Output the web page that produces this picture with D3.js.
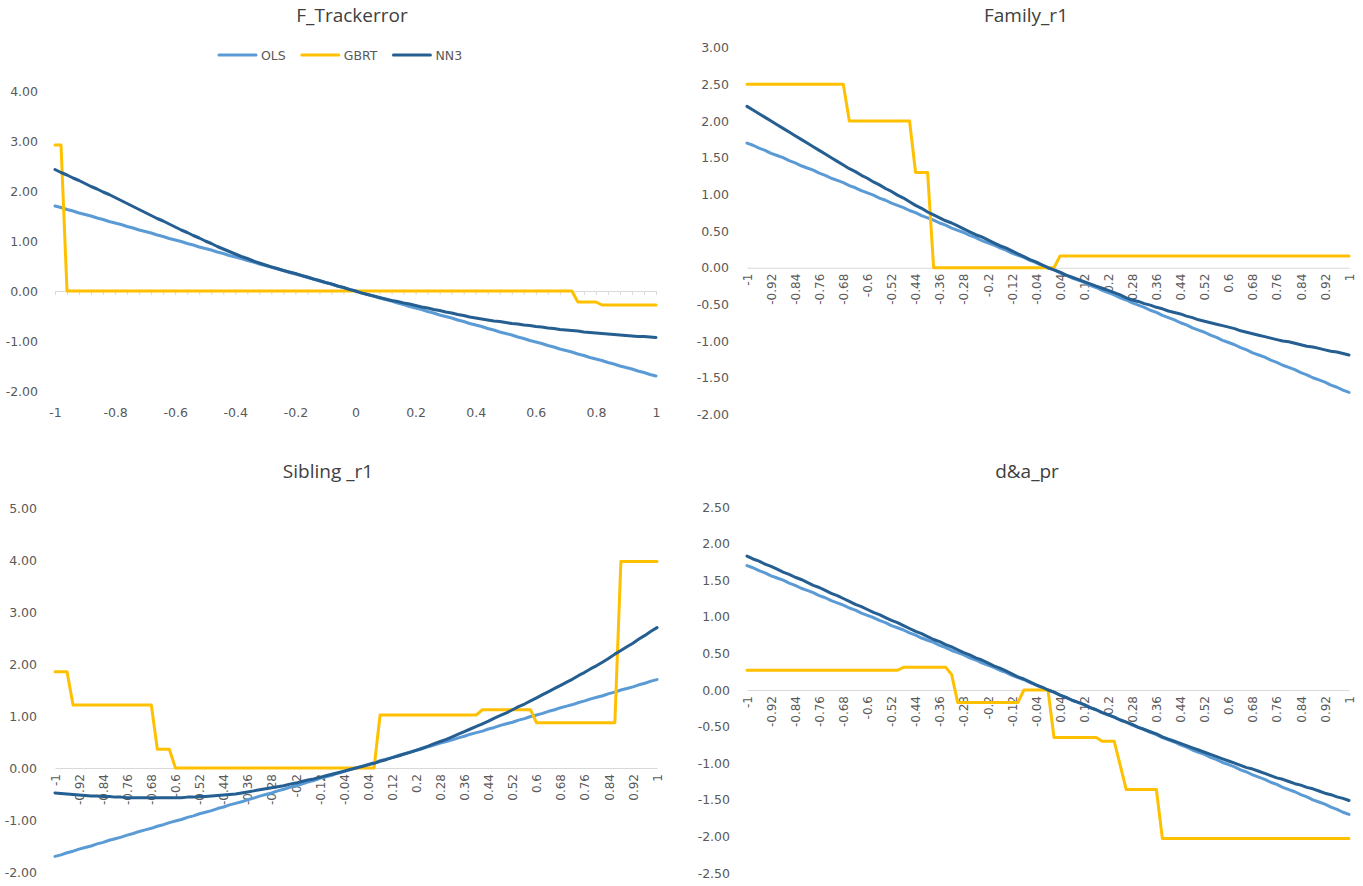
<!DOCTYPE html>
<html><head><meta charset="utf-8">
<script src="https://cdn.jsdelivr.net/npm/d3@7"></script>
<style>body{margin:0;background:#fff}svg{display:block}</style>
</head><body>
<svg id="chart" width="1363" height="886"></svg>
<script>
const seriesNames = ["OLS", "GBRT", "NN3"];
const xValues = [
-1,-0.98,-0.96,-0.94,-0.92,-0.9,-0.88,-0.86,-0.84,-0.82,
-0.8,-0.78,-0.76,-0.74,-0.72,-0.7,-0.68,-0.66,-0.64,-0.62,
-0.6,-0.58,-0.56,-0.54,-0.52,-0.5,-0.48,-0.46,-0.44,-0.42,
-0.4,-0.38,-0.36,-0.34,-0.32,-0.3,-0.28,-0.26,-0.24,-0.22,
-0.2,-0.18,-0.16,-0.14,-0.12,-0.1,-0.08,-0.06,-0.04,-0.02,
0,
0.02,0.04,0.06,0.08,0.1,0.12,0.14,0.16,0.18,0.2,
0.22,0.24,0.26,0.28,0.3,0.32,0.34,0.36,0.38,0.4,
0.42,0.44,0.46,0.48,0.5,0.52,0.54,0.56,0.58,0.6,
0.62,0.64,0.66,0.68,0.7,0.72,0.74,0.76,0.78,0.8,
0.82,0.84,0.86,0.88,0.9,0.92,0.94,0.96,0.98,1];
const catTickLabels = ["-1","-0.92","-0.84","-0.76","-0.68","-0.6","-0.52","-0.44","-0.36","-0.28","-0.2","-0.12","-0.04","0.04","0.12","0.2","0.28","0.36","0.44","0.52","0.6","0.68","0.76","0.84","0.92","1"];
const trackTicksX = [-1,-0.8,-0.6,-0.4,-0.2,0,0.2,0.4,0.6,0.8,1];
const trackTicksY = [-2,-1,0,1,2,3,4];
const familyTicksY = [-2,-1.5,-1,-0.5,0,0.5,1,1.5,2,2.5,3];
const siblingTicksY = [-2,-1,0,1,2,3,4,5];
const daTicksY = [-2.5,-2,-1.5,-1,-0.5,0,0.5,1,1.5,2,2.5];

// F_Trackerror
const olsTrack = [
1.70,1.67,1.63,1.60,1.56,1.53,1.50,1.46,1.43,1.39,
1.36,1.33,1.29,1.26,1.22,1.19,1.16,1.12,1.09,1.05,
1.02,0.99,0.95,0.92,0.88,0.85,0.82,0.78,0.75,0.71,
0.68,0.65,0.61,0.58,0.54,0.51,0.48,0.44,0.41,0.37,
0.34,0.31,0.27,0.24,0.20,0.17,0.14,0.10,0.07,0.03,
0.00,
-0.03,-0.07,-0.10,-0.14,-0.17,-0.20,-0.24,-0.27,-0.31,-0.34,
-0.37,-0.41,-0.44,-0.48,-0.51,-0.54,-0.58,-0.61,-0.65,-0.68,
-0.71,-0.75,-0.78,-0.82,-0.85,-0.88,-0.92,-0.95,-0.99,-1.02,
-1.05,-1.09,-1.12,-1.16,-1.19,-1.22,-1.26,-1.29,-1.33,-1.36,
-1.39,-1.43,-1.46,-1.50,-1.53,-1.56,-1.60,-1.63,-1.67,-1.70];
const gbrtTrack = [
2.92,2.92,0,0,0,0,0,0,0,0,
0,0,0,0,0,0,0,0,0,0,
0,0,0,0,0,0,0,0,0,0,
0,0,0,0,0,0,0,0,0,0,
0,0,0,0,0,0,0,0,0,0,
0,
0,0,0,0,0,0,0,0,0,0,
0,0,0,0,0,0,0,0,0,0,
0,0,0,0,0,0,0,0,0,0,
0,0,0,0,0,0,-0.22,-0.22,-0.22,-0.22,
-0.28,-0.28,-0.28,-0.28,-0.28,-0.28,-0.28,-0.28,-0.28,-0.28];
const nn3Track = [
2.43,2.37,2.32,2.26,2.21,2.15,2.09,2.04,1.98,1.93,
1.87,1.81,1.75,1.69,1.63,1.57,1.51,1.45,1.40,1.34,
1.28,1.22,1.17,1.11,1.06,1.00,0.95,0.89,0.84,0.79,
0.74,0.69,0.65,0.60,0.56,0.52,0.48,0.45,0.41,0.38,
0.35,0.31,0.28,0.24,0.21,0.17,0.14,0.10,0.07,0.03,
0.00,
-0.04,-0.07,-0.10,-0.13,-0.16,-0.19,-0.21,-0.24,-0.26,-0.29,
-0.32,-0.34,-0.37,-0.39,-0.42,-0.44,-0.47,-0.49,-0.52,-0.54,
-0.56,-0.58,-0.60,-0.61,-0.63,-0.65,-0.66,-0.68,-0.69,-0.71,
-0.72,-0.74,-0.75,-0.77,-0.78,-0.79,-0.80,-0.82,-0.83,-0.84,
-0.85,-0.86,-0.87,-0.88,-0.89,-0.90,-0.91,-0.91,-0.92,-0.93];

// Family_r1
const olsFamily = [
1.70,1.67,1.63,1.60,1.56,1.53,1.50,1.46,1.43,1.39,
1.36,1.33,1.29,1.26,1.22,1.19,1.16,1.12,1.09,1.05,
1.02,0.99,0.95,0.92,0.88,0.85,0.82,0.78,0.75,0.71,
0.68,0.65,0.61,0.58,0.54,0.51,0.48,0.44,0.41,0.37,
0.34,0.31,0.27,0.24,0.20,0.17,0.14,0.10,0.07,0.03,
0.00,
-0.03,-0.07,-0.10,-0.14,-0.17,-0.20,-0.24,-0.27,-0.31,-0.34,
-0.37,-0.41,-0.44,-0.48,-0.51,-0.54,-0.58,-0.61,-0.65,-0.68,
-0.71,-0.75,-0.78,-0.82,-0.85,-0.88,-0.92,-0.95,-0.99,-1.02,
-1.05,-1.09,-1.12,-1.16,-1.19,-1.22,-1.26,-1.29,-1.33,-1.36,
-1.39,-1.43,-1.46,-1.50,-1.53,-1.56,-1.60,-1.63,-1.67,-1.70];
const gbrtFamily = [
2.5,2.5,2.5,2.5,2.5,2.5,2.5,2.5,2.5,2.5,
2.5,2.5,2.5,2.5,2.5,2.5,2.5,2,2,2,
2,2,2,2,2,2,2,2,1.3,1.3,
1.3,0,0,0,0,0,0,0,0,0,
0,0,0,0,0,0,0,0,0,0,
0,
0,0.16,0.16,0.16,0.16,0.16,0.16,0.16,0.16,0.16,
0.16,0.16,0.16,0.16,0.16,0.16,0.16,0.16,0.16,0.16,
0.16,0.16,0.16,0.16,0.16,0.16,0.16,0.16,0.16,0.16,
0.16,0.16,0.16,0.16,0.16,0.16,0.16,0.16,0.16,0.16,
0.16,0.16,0.16,0.16,0.16,0.16,0.16,0.16,0.16,0.16];
const nn3Family = [
2.20,2.15,2.10,2.05,2.00,1.95,1.90,1.85,1.80,1.75,
1.70,1.65,1.60,1.55,1.50,1.45,1.40,1.35,1.31,1.26,
1.22,1.17,1.13,1.08,1.04,0.99,0.95,0.90,0.85,0.81,
0.76,0.72,0.68,0.64,0.61,0.57,0.53,0.49,0.45,0.42,
0.38,0.34,0.30,0.27,0.23,0.19,0.15,0.11,0.08,0.04,
0.00,
-0.03,-0.06,-0.10,-0.13,-0.16,-0.19,-0.22,-0.25,-0.28,-0.31,
-0.34,-0.37,-0.41,-0.44,-0.46,-0.49,-0.51,-0.54,-0.56,-0.59,
-0.61,-0.63,-0.66,-0.68,-0.71,-0.73,-0.75,-0.77,-0.79,-0.81,
-0.83,-0.86,-0.88,-0.90,-0.92,-0.94,-0.96,-0.98,-1.00,-1.01,
-1.03,-1.05,-1.07,-1.08,-1.10,-1.12,-1.14,-1.15,-1.17,-1.19];

// Sibling _r1
const olsSibling = [
-1.70,-1.67,-1.63,-1.60,-1.56,-1.53,-1.50,-1.46,-1.43,-1.39,
-1.36,-1.33,-1.29,-1.26,-1.22,-1.19,-1.16,-1.12,-1.09,-1.05,
-1.02,-0.99,-0.95,-0.92,-0.88,-0.85,-0.82,-0.78,-0.75,-0.71,
-0.68,-0.65,-0.61,-0.58,-0.54,-0.51,-0.48,-0.44,-0.41,-0.37,
-0.34,-0.31,-0.27,-0.24,-0.20,-0.17,-0.14,-0.10,-0.07,-0.03,
0.00,
0.03,0.07,0.10,0.14,0.17,0.20,0.24,0.27,0.31,0.34,
0.37,0.41,0.44,0.48,0.51,0.54,0.58,0.61,0.65,0.68,
0.71,0.75,0.78,0.82,0.85,0.88,0.92,0.95,0.99,1.02,
1.05,1.09,1.12,1.16,1.19,1.22,1.26,1.29,1.33,1.36,
1.39,1.43,1.46,1.50,1.53,1.56,1.60,1.63,1.67,1.70];
const gbrtSibling = [
1.85,1.85,1.85,1.21,1.21,1.21,1.21,1.21,1.21,1.21,
1.21,1.21,1.21,1.21,1.21,1.21,1.21,0.36,0.36,0.36,
0,0,0,0,0,0,0,0,0,0,
0,0,0,0,0,0,0,0,0,0,
0,0,0,0,0,0,0,0,0,0,
0,
0,0,0,1.02,1.02,1.02,1.02,1.02,1.02,1.02,
1.02,1.02,1.02,1.02,1.02,1.02,1.02,1.02,1.02,1.02,
1.12,1.12,1.12,1.12,1.12,1.12,1.12,1.12,1.12,0.87,
0.87,0.87,0.87,0.87,0.87,0.87,0.87,0.87,0.87,0.87,
0.87,0.87,0.87,3.97,3.97,3.97,3.97,3.97,3.97,3.97];
const nn3Sibling = [
-0.48,-0.49,-0.50,-0.51,-0.52,-0.53,-0.54,-0.54,-0.55,-0.55,
-0.56,-0.56,-0.57,-0.57,-0.57,-0.57,-0.57,-0.57,-0.57,-0.57,
-0.57,-0.57,-0.56,-0.56,-0.55,-0.55,-0.54,-0.53,-0.52,-0.51,
-0.50,-0.48,-0.46,-0.44,-0.42,-0.40,-0.38,-0.36,-0.34,-0.31,
-0.29,-0.26,-0.23,-0.21,-0.18,-0.15,-0.12,-0.09,-0.06,-0.03,
0.00,
0.03,0.06,0.09,0.13,0.16,0.20,0.23,0.27,0.30,0.34,
0.38,0.42,0.47,0.51,0.55,0.60,0.65,0.70,0.75,0.80,
0.85,0.90,0.96,1.01,1.06,1.12,1.18,1.23,1.29,1.35,
1.41,1.47,1.53,1.59,1.65,1.71,1.78,1.84,1.91,1.97,
2.04,2.11,2.19,2.26,2.33,2.40,2.48,2.55,2.63,2.70];

// d&a_pr
const olsDA = [
1.70,1.67,1.63,1.60,1.56,1.53,1.50,1.46,1.43,1.39,
1.36,1.33,1.29,1.26,1.22,1.19,1.16,1.12,1.09,1.05,
1.02,0.99,0.95,0.92,0.88,0.85,0.82,0.78,0.75,0.71,
0.68,0.65,0.61,0.58,0.54,0.51,0.48,0.44,0.41,0.37,
0.34,0.31,0.27,0.24,0.20,0.17,0.14,0.10,0.07,0.03,
0.00,
-0.03,-0.07,-0.10,-0.14,-0.17,-0.20,-0.24,-0.27,-0.31,-0.34,
-0.37,-0.41,-0.44,-0.48,-0.51,-0.54,-0.58,-0.61,-0.65,-0.68,
-0.71,-0.75,-0.78,-0.82,-0.85,-0.88,-0.92,-0.95,-0.99,-1.02,
-1.05,-1.09,-1.12,-1.16,-1.19,-1.22,-1.26,-1.29,-1.33,-1.36,
-1.39,-1.43,-1.46,-1.50,-1.53,-1.56,-1.60,-1.63,-1.67,-1.70];
const gbrtDA = [
0.27,0.27,0.27,0.27,0.27,0.27,0.27,0.27,0.27,0.27,
0.27,0.27,0.27,0.27,0.27,0.27,0.27,0.27,0.27,0.27,
0.27,0.27,0.27,0.27,0.27,0.27,0.31,0.31,0.31,0.31,
0.31,0.31,0.31,0.31,0.21,-0.17,-0.17,-0.17,-0.17,-0.17,
-0.17,-0.17,-0.17,-0.17,-0.17,-0.17,0,0,0,0,
0,
-0.65,-0.65,-0.65,-0.65,-0.65,-0.65,-0.65,-0.65,-0.70,-0.70,
-0.70,-1.03,-1.36,-1.36,-1.36,-1.36,-1.36,-1.36,-2.03,-2.03,
-2.03,-2.03,-2.03,-2.03,-2.03,-2.03,-2.03,-2.03,-2.03,-2.03,
-2.03,-2.03,-2.03,-2.03,-2.03,-2.03,-2.03,-2.03,-2.03,-2.03,
-2.03,-2.03,-2.03,-2.03,-2.03,-2.03,-2.03,-2.03,-2.03,-2.03];
const nn3DA = [
1.83,1.79,1.76,1.72,1.69,1.65,1.61,1.58,1.54,1.51,
1.47,1.43,1.40,1.36,1.32,1.29,1.25,1.21,1.17,1.14,
1.10,1.06,1.03,0.99,0.95,0.92,0.88,0.84,0.80,0.77,
0.73,0.69,0.66,0.62,0.59,0.55,0.51,0.48,0.44,0.41,
0.37,0.33,0.30,0.26,0.22,0.18,0.15,0.11,0.07,0.04,
0.00,
-0.03,-0.07,-0.10,-0.14,-0.17,-0.20,-0.24,-0.27,-0.31,-0.34,
-0.37,-0.41,-0.44,-0.47,-0.51,-0.54,-0.57,-0.60,-0.64,-0.67,
-0.70,-0.73,-0.76,-0.79,-0.82,-0.85,-0.88,-0.91,-0.94,-0.97,
-1.00,-1.03,-1.06,-1.08,-1.11,-1.14,-1.17,-1.20,-1.22,-1.25,
-1.28,-1.30,-1.33,-1.35,-1.38,-1.41,-1.43,-1.46,-1.48,-1.51];

// ---------- layout & drawing ----------
const colors = {OLS: "#5B9BD5", GBRT: "#FFC000", NN3: "#255E91"};
const TICK_FONT = "DejaVu Sans";
const panels = [
  {title: "F_Trackerror", kind: "scatter", series: [olsTrack, gbrtTrack, nn3Track], yTicks: trackTicksY,
   x0: 55, x1: 656, yTop: 91, yBot: 391, yLabelX: 38, labelY: 408, titleX: 352, titleY: 15},
  {title: "Family_r1", kind: "category", series: [olsFamily, gbrtFamily, nn3Family], yTicks: familyTicksY,
   x0: 747, x1: 1349, yTop: 47.7, yBot: 414.4, yLabelX: 729, titleX: 1026, titleY: 15},
  {title: "Sibling _r1", kind: "category", series: [olsSibling, gbrtSibling, nn3Sibling], yTicks: siblingTicksY,
   x0: 55, x1: 657, yTop: 508, yBot: 872, yLabelX: 37, titleX: 328, titleY: 471},
  {title: "d&a_pr", kind: "category", series: [olsDA, gbrtDA, nn3DA], yTicks: daTicksY,
   x0: 747, x1: 1349, yTop: 507, yBot: 873, yLabelX: 730, titleX: 1027, titleY: 471}
];

const svg = d3.select("#chart");
const fmtY = d => d.toFixed(2);

panels.forEach(p => {
  const g = svg.append("g");
  const y = d3.scaleLinear()
    .domain([p.yTicks[0], p.yTicks[p.yTicks.length - 1]])
    .range([p.yBot, p.yTop]);

  const ya = g.append("g")
    .attr("transform", `translate(${p.yLabelX},0)`)
    .call(d3.axisLeft(y).tickValues(p.yTicks).tickFormat(fmtY).tickSize(0).tickPadding(0));
  ya.select(".domain").remove();
  ya.attr("font-family", TICK_FONT).attr("font-size", 12.5).attr("color", "#595959");

  let xPos;
  if (p.kind === "scatter") {
    const x = d3.scaleLinear().domain([-1, 1]).range([p.x0, p.x1]);
    xPos = (d, i) => x(xValues[i]);
    const minorTicks = d3.range(0, 51).map(k => -1 + k * 0.04);
    const zl = g.append("g")
      .attr("transform", `translate(0,${y(0)})`)
      .call(d3.axisBottom(x).tickValues(minorTicks).tickSize(4).tickSizeOuter(0).tickFormat(""));
    zl.attr("color", "#D9D9D9");
    const lab = g.append("g")
      .attr("transform", `translate(0,${p.labelY})`)
      .call(d3.axisBottom(x).tickValues(trackTicksX).tickFormat(d => String(d)).tickSize(0).tickPadding(0));
    lab.select(".domain").remove();
    lab.attr("font-family", TICK_FONT).attr("font-size", 12.5).attr("color", "#595959");
  } else {
    const x = d3.scalePoint().domain(xValues.map(String)).range([p.x0, p.x1]);
    xPos = (d, i) => x(String(xValues[i]));
    const ax = g.append("g")
      .attr("transform", `translate(0,${y(0)})`)
      .call(d3.axisBottom(x).tickValues(catTickLabels).tickSize(0).tickSizeOuter(0));
    ax.attr("font-family", TICK_FONT).attr("font-size", 12).attr("color", "#595959");
    ax.select(".domain").attr("stroke", "#D9D9D9");
    ax.selectAll(".tick text")
      .attr("transform", "rotate(-90)")
      .attr("x", -6).attr("y", 0).attr("dy", "0.35em")
      .attr("text-anchor", "end");
  }

  const line = d3.line().x(xPos).y(d => y(d));
  p.series.forEach((s, k) => {
    g.append("path").datum(s)
      .attr("d", line)
      .attr("fill", "none")
      .attr("stroke", colors[seriesNames[k]])
      .attr("stroke-width", 3)
      .attr("stroke-linejoin", "round")
      .attr("stroke-linecap", "round");
  });

  g.append("text")
    .attr("x", p.titleX).attr("y", p.titleY)
    .attr("text-anchor", "middle").attr("dominant-baseline", "central")
    .attr("font-family", "Open Sans").attr("font-size", 19).attr("fill", "#404040")
    .text(p.title);
});

// legend (first panel only)
const leg = svg.append("g").attr("transform", "translate(219,55)");
let lx = 0;
seriesNames.forEach(name => {
  leg.append("line").attr("x1", lx).attr("x2", lx + 37).attr("y1", 0).attr("y2", 0)
    .attr("stroke", colors[name]).attr("stroke-width", 3).attr("stroke-linecap", "round");
  const t = leg.append("text").attr("x", lx + 42).attr("y", 0)
    .attr("dominant-baseline", "central")
    .attr("font-family", TICK_FONT).attr("font-size", 12.5).attr("fill", "#595959")
    .text(name);
  lx += 42 + t.node().getComputedTextLength() + 16;
});
</script>
</body></html>
